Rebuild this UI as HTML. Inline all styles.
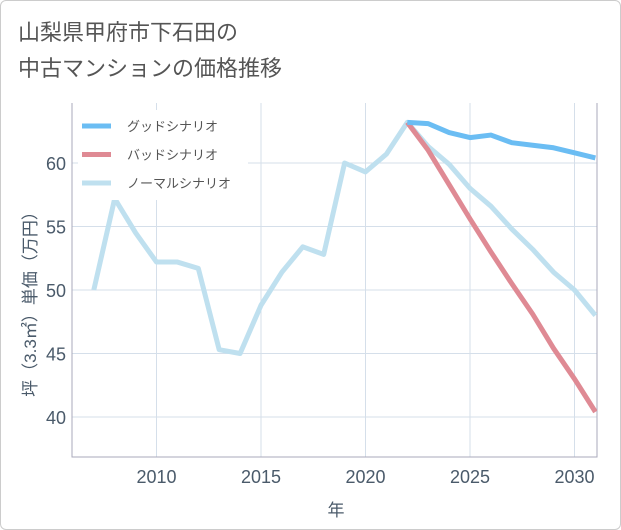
<!DOCTYPE html>
<html><head><meta charset="utf-8"><style>
html,body{margin:0;padding:0;background:#fff;}
body{width:621px;height:530px;overflow:hidden;font-family:"Liberation Sans","Noto Sans CJK JP",sans-serif;}
.card{position:absolute;left:0;top:0;width:619px;height:528px;border:1px solid #ccc;border-radius:6px;}
</style></head><body>
<div class="card"></div>
<svg width="621" height="530" style="position:absolute;left:0;top:0">
<text x="18" y="40" font-size="22" fill="#555">山梨県甲府市下石田の</text>
<text x="18" y="76" font-size="22" fill="#555">中古マンションの価格推移</text>
<g id="grid"></g>
<g id="series"></g>
<g id="legend"></g>
<text x="336" y="516" font-size="17" fill="#4a5a6a" text-anchor="middle">年</text>
<text transform="translate(36,300) rotate(-90)" font-size="17" fill="#4a5a6a" text-anchor="middle">坪（3.3㎡）単価（万円）</text>
</svg>
<script>
const years=[2007,2008,2009,2010,2011,2012,2013,2014,2015,2016,2017,2018,2019,2020,2021,2022,2023,2024,2025,2026,2027,2028,2029,2030,2031];
const normal=[50,57.2,54.5,52.2,52.2,51.7,45.3,45.0,48.8,51.4,53.4,52.8,60.0,59.3,60.7,63.2,61.3,59.9,58.0,56.6,54.8,53.2,51.4,50.0,48.0];
const forecastYears=[2022,2023,2024,2025,2026,2027,2028,2029,2030,2031];
const good=[63.2,63.1,62.4,62.0,62.2,61.6,61.4,61.2,60.8,60.4];
const bad=[63.2,61.0,58.3,55.6,53.0,50.5,48.1,45.4,43.0,40.4];
const xTicks=[2010,2015,2020,2025,2030];
const yTicks=[40,45,50,55,60];
const legendLabels=["グッドシナリオ","バッドシナリオ","ノーマルシナリオ"];
const L=72,R=597,T=103,B=457;
const x=v=>156.5+(v-2010)*20.9;
const y=v=>417-(v-40)*12.7;
const NS="http://www.w3.org/2000/svg";
function mk(tag,attrs,parent){const e=document.createElementNS(NS,tag);for(const k in attrs)e.setAttribute(k,attrs[k]);parent.appendChild(e);return e;}
const grid=document.getElementById('grid');
xTicks.forEach(t=>{
 const l=mk('line',{x1:x(t),x2:x(t),y1:T,y2:B,stroke:'#d5dfea','stroke-width':1},grid);
 
 
 const tx=mk('text',{x:x(t),y:B+26,'font-size':18,fill:'#4a5a6a','text-anchor':'middle'},grid);tx.textContent=t;
 
 
});
yTicks.forEach(t=>{
 const l=mk('line',{x1:L,x2:R,y1:y(t),y2:y(t),stroke:'#d5dfea','stroke-width':1},grid);
 
 
 const tx=mk('text',{x:L-6,y:y(t)+7,'font-size':18,fill:'#4a5a6a','text-anchor':'end'},grid);tx.textContent=t;
 
 
});
const ax=mk('path',{d:`M${L},${T}V${B}H${R}V${T}`,fill:'none',stroke:'#aab',"stroke-width":1},grid);


const s=document.getElementById('series');
const clip=mk('clipPath',{id:'pc'},s);mk('rect',{x:L,y:T,width:R-L,height:B-T},clip);
function line(xs,vs,color,name){
 const p=mk('polyline',{points:xs.map((t,i)=>x(t)+','+y(vs[i])).join(' '),fill:'none',stroke:color,'stroke-width':5,'stroke-linejoin':'round','clip-path':'url(#pc)'},s);
 
 
}
line(years,normal,'#bfe0ef','normal-scenario-line');
line(forecastYears,bad,'#df8a94','bad-scenario-line');
line(forecastYears,good,'#6bbdf3','good-scenario-line');
const lg=document.getElementById('legend');
const colors=['#6bbdf3','#df8a94','#bfe0ef'];
const bg=mk('rect',{x:78,y:110,width:170,height:90,fill:'#fff'},lg);


legendLabels.forEach((lab,i)=>{
 const yy=126+i*28.5;
 const sw=mk('line',{x1:82,x2:111,y1:yy,y2:yy,stroke:colors[i],'stroke-width':5},lg);
 
 
 const t=mk('text',{x:127,y:yy+5,'font-size':13,fill:'#555'},lg);t.textContent=lab;
 
 
});
</script>
</body></html>
